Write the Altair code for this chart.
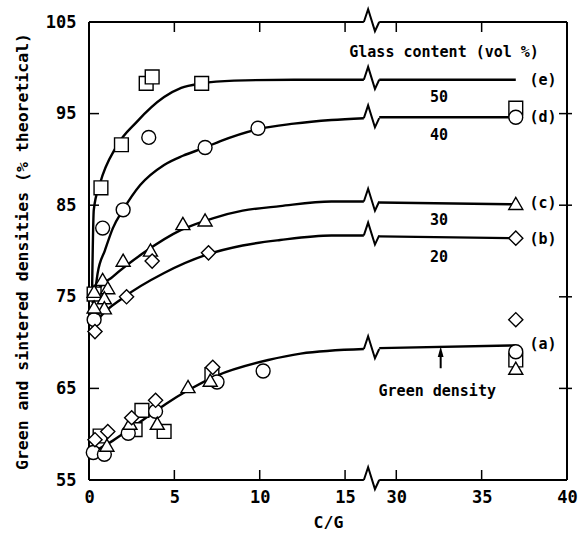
import altair as alt
import pandas as pd

# ---- fitted curves (C/G, density % theoretical) ----
# sections left of the axis break
e_x = [0.18, 0.28, 0.65, 1.6, 2.8, 4.4, 5.4, 6.6, 8.5, 12.0, 16.1]
e_y = [75.5, 84.5, 87.4, 91.4, 94.1, 96.8, 97.8, 98.3, 98.6, 98.7, 98.7]
d_x = [0.3, 0.5, 0.94, 1.4, 2.0, 3.0, 4.4, 5.5, 6.8, 7.7, 9.9, 12.0, 14.2, 16.1]
d_y = [74.5, 77.5, 80.1, 82.5, 84.5, 87.2, 89.4, 90.4, 91.3, 92.0, 93.3, 93.9, 94.3, 94.5]
c_x = [0.2, 0.5, 1.4, 3.2, 5.4, 7.3, 9.0, 11.2, 14.2, 16.1]
c_y = [74.3, 75.6, 77.2, 79.8, 82.3, 83.6, 84.4, 84.9, 85.4, 85.4]
b_x = [0.25, 0.65, 2.0, 4.4, 6.9, 9.0, 11.2, 14.2, 16.1]
b_y = [71.8, 72.8, 74.9, 77.6, 79.6, 80.6, 81.2, 81.7, 81.7]
a_x = [0.4, 1.4, 2.5, 3.5, 4.5, 5.8, 7.5, 10.5, 12.4, 16.1]
a_y = [58.2, 59.3, 60.7, 62.0, 63.3, 64.8, 66.4, 68.1, 68.8, 69.3]

# sections right of the axis break
tail_x = [29.0, 37.0]
e_tail = [98.7, 98.7]
d_tail = [94.6, 94.6]
c_tail = [85.3, 85.1]
b_tail = [81.6, 81.4]
a_tail = [69.4, 69.7]

# ---- measured points ----
sq_x = [0.7, 1.9, 3.35, 3.7, 6.6, 0.3, 37.0,
        0.65, 2.7, 3.1, 4.4, 7.2, 37.0]
sq_y = [86.9, 91.6, 98.3, 99.0, 98.3, 75.3, 95.6,
        59.8, 60.5, 62.6, 60.3, 66.5, 68.1]
ci_x = [0.8, 2.0, 3.5, 6.8, 9.9, 0.3, 37.0,
        0.25, 0.9, 2.3, 3.9, 7.5, 10.2, 37.0]
ci_y = [82.5, 84.5, 92.4, 91.3, 93.4, 72.5, 94.6,
        58.0, 57.8, 60.1, 62.5, 65.7, 66.9, 69.0]
tr_x = [2.0, 3.6, 5.5, 6.8, 0.3, 0.8, 1.1, 0.9, 0.9, 0.3, 37.0,
        1.05, 2.4, 4.0, 5.8, 7.1, 37.0]
tr_y = [79.0, 80.1, 83.0, 83.4, 75.6, 76.9, 76.0, 74.9, 73.8, 73.9, 85.2,
        58.8, 61.2, 61.2, 65.2, 65.9, 67.2]
di_x = [0.35, 2.2, 3.7, 7.0, 37.0,
        0.35, 1.1, 2.5, 3.9, 7.25, 37.0]
di_y = [71.2, 75.0, 78.9, 79.8, 81.4,
        59.4, 60.3, 61.8, 63.7, 67.3, 72.5]

# ---- axis break geometry (display axis u: x above the break is shifted by 12) ----
SHIFT = 12.0
BRK_LO, BRK_HI = 16.1, 17.0
zig_du = [0.0, 0.25, 0.65, 0.9]
zig_dy = [0.0, 1.4, -1.0, 0.0]

X_MIN, X_MAX = 0, 28
Y_MIN, Y_MAX = 55, 105
W, H = 478, 458

FONT = "DejaVu Sans Mono"


def to_u(x):
    return x if x < 20 else x - SHIFT


xs = alt.Scale(domain=[X_MIN, X_MAX], nice=False, zero=False)
ys = alt.Scale(domain=[Y_MIN, Y_MAX], nice=False, zero=False)
axis_style = dict(
    labelFont=FONT, labelFontSize=17, labelFontWeight="bold", labelColor="black",
    titleFont=FONT, titleFontSize=16.5, titleFontWeight="bold", titleColor="black",
    ticks=False, domain=False, grid=False,
)
x_axis = alt.Axis(
    values=[0, 5, 10, 15, 18, 23, 28],
    labelExpr="'' + (datum.value > 16 ? datum.value + 12 : datum.value)",
    title="C/G", labelFlush=False,
    labelPadding=9, titleY=42, titleBaseline="middle", **axis_style,
)
y_axis = alt.Axis(
    values=[55, 65, 75, 85, 95, 105],
    title="Green and sintered densities (% theoretical)",
    labelPadding=13,
    titleX=-67, titleY=H / 2, titleAngle=-90, titleBaseline="middle", titleAlign="center",
    **axis_style,
)


def X(field="u"):
    return alt.X(f"{field}:Q", scale=xs, axis=x_axis)


def Y(field="y"):
    return alt.Y(f"{field}:Q", scale=ys, axis=y_axis)


# curve tables
curves = [("a", a_x, a_y, a_tail), ("b", b_x, b_y, b_tail), ("c", c_x, c_y, c_tail),
          ("d", d_x, d_y, d_tail), ("e", e_x, e_y, e_tail)]
smooth_rows, tail_rows, zig_rows = [], [], []
for name, cx, cy, tail in curves:
    for i, (xv, yv) in enumerate(zip(cx, cy)):
        smooth_rows.append({"s": name, "i": i, "u": to_u(xv), "y": yv})
    for i, (xv, yv) in enumerate(zip(tail_x, tail)):
        tail_rows.append({"s": name, "i": i, "u": to_u(xv), "y": yv})
    for i, (du, dy) in enumerate(zip(zig_du, zig_dy)):
        zig_rows.append({"s": name, "i": i, "u": BRK_LO + du, "y": cy[-1] + dy})
# axis-line zigzags (bottom and top)
for name, base in [("bottom", Y_MIN), ("top", Y_MAX)]:
    for i, (du, dy) in enumerate(zip(zig_du, zig_dy)):
        zig_rows.append({"s": name, "i": i, "u": BRK_LO + du, "y": base + dy})

smooth_df = pd.DataFrame(smooth_rows)
tail_df = pd.DataFrame(tail_rows)
zig_df = pd.DataFrame(zig_rows)

pts = []
for shape, px, py in [("square", sq_x, sq_y), ("circle", ci_x, ci_y),
                      ("triangle-up", tr_x, tr_y), ("diamond", di_x, di_y)]:
    for xv, yv in zip(px, py):
        pts.append({"shape": shape, "u": to_u(xv), "y": yv})
pts_df = pd.DataFrame(pts)

smooth = alt.Chart(smooth_df).mark_line(
    interpolate="monotone", color="black", strokeWidth=2.4
).encode(x=X(), y=Y(), detail="s:N", order="i:Q")

tails = alt.Chart(tail_df).mark_line(color="black", strokeWidth=2.4).encode(
    x=X(), y=Y(), detail="s:N", order="i:Q")

zigs = alt.Chart(zig_df).mark_line(color="black", strokeWidth=2.0).encode(
    x=X(), y=Y(), detail="s:N", order="i:Q")

# frame: top and bottom lines in two pieces around the break
frame_df = pd.DataFrame({
    "u": [X_MIN, BRK_HI, X_MIN, BRK_HI],
    "u2": [BRK_LO, X_MAX, BRK_LO, X_MAX],
    "y": [Y_MIN, Y_MIN, Y_MAX, Y_MAX],
})
frame_h = alt.Chart(frame_df).mark_rule(color="black", strokeWidth=2).encode(
    x=X(), x2="u2:Q", y=Y())
frame_v = alt.Chart(pd.DataFrame({"side": ["left", "right"], "px": [0, W]})).mark_rule(
    color="black", strokeWidth=2).encode(
    x=alt.X("px:Q", scale=None), y=alt.value(0), y2=alt.value(H))

# inward ticks
xt_df = pd.DataFrame({"u": [5, 10, 15, 18, 23]})
yt_df = pd.DataFrame({"y": [65, 75, 85, 95]})
tick_b = alt.Chart(xt_df).mark_rule(color="black", strokeWidth=1.5).encode(
    x=X(), y=alt.value(H), y2=alt.value(H - 10))
tick_t = alt.Chart(xt_df).mark_rule(color="black", strokeWidth=1.5).encode(
    x=X(), y=alt.value(0), y2=alt.value(10))
tick_l = alt.Chart(yt_df).mark_rule(color="black", strokeWidth=1.5).encode(
    y=Y(), x=alt.value(0), x2=alt.value(10))
tick_r = alt.Chart(yt_df).mark_rule(color="black", strokeWidth=1.5).encode(
    y=Y(), x=alt.value(W - 8), x2=alt.value(W + 5))

points = alt.Chart(pts_df).mark_point(
    filled=True, fill="white", stroke="black", strokeWidth=1.4, opacity=1
).encode(
    x=X(), y=Y(),
    shape=alt.Shape("shape:N", scale=None),
    size=alt.Size("shape:O", legend=None,
                  scale=alt.Scale(domain=["square", "circle", "triangle-up", "diamond"],
                                  range=[190, 200, 230, 330])),
)

# annotations
lab_text = ["Glass content  (vol %)", "50", "40", "30", "20",
            "(e)", "(d)", "(c)", "(b)", "(a)", "Green density"]
lab_x = [32.8, 32.5, 32.5, 32.5, 32.5, 38.6, 38.6, 38.6, 38.6, 38.6, 32.4]
lab_y = [101.7, 96.8, 92.7, 83.4, 79.3, 98.7, 94.6, 85.2, 81.3, 69.8, 64.7]
lab_df = pd.DataFrame({"t": lab_text, "u": [to_u(v) for v in lab_x], "y": lab_y})
labels = alt.Chart(lab_df).mark_text(
    font=FONT, fontSize=15, fontWeight="bold", color="black", baseline="middle"
).encode(x=X(), y=Y(), text="t:N")

arrow_x = 32.6
arrow_df = pd.DataFrame({"u": [to_u(arrow_x)], "y": [67.2], "y2": [68.6]})
shaft = alt.Chart(arrow_df).mark_rule(color="black", strokeWidth=2).encode(
    x=X(), y=Y(), y2="y2:Q")
head = alt.Chart(pd.DataFrame({"u": [to_u(arrow_x)], "y": [69.0]})).mark_point(
    shape="M-0.55,1L0,-1L0.55,1Z", filled=True, color="black", size=110, opacity=1
).encode(x=X(), y=Y())

chart = alt.layer(
    smooth, tails, zigs, frame_h, frame_v, tick_b, tick_t, tick_l, tick_r,
    shaft, head, points, labels,
).properties(
    width=W, height=H,
    background="white",
    autosize=alt.AutoSizeParams(type="none"),
    padding={"left": 89, "top": 22, "right": 14, "bottom": 55},
).configure_view(stroke=None)

chart.save("out.html", embed_options={"renderer": "svg", "actions": False})
